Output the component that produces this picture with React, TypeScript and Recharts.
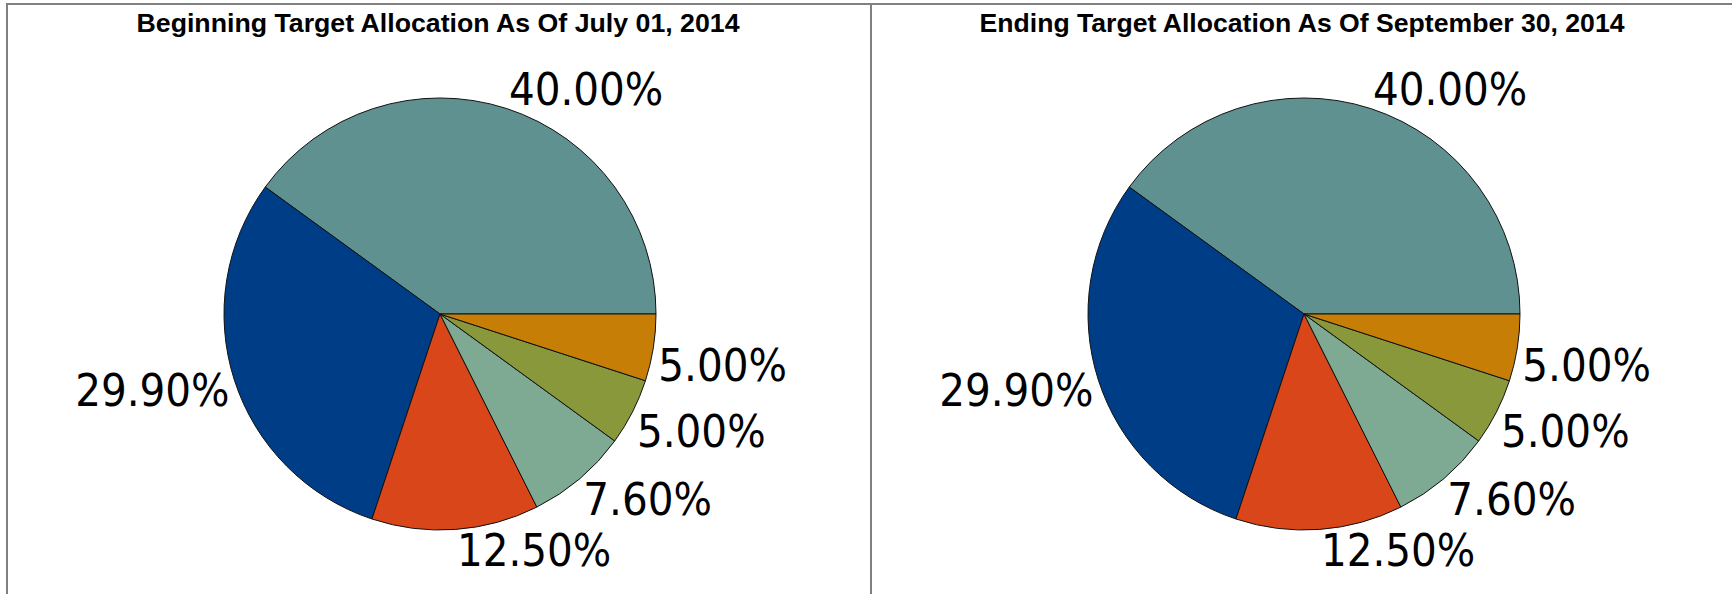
import { PieChart, Pie, Cell } from "recharts";

// Data
const sliceNames = ["Sleeve A", "Sleeve B", "Sleeve C", "Sleeve D", "Sleeve E", "Sleeve F"];
const beginningValues = [40.0, 29.9, 12.5, 7.6, 5.0, 5.0];
const endingValues = [40.0, 29.9, 12.5, 7.6, 5.0, 5.0];
const panelTitles = [
  "Beginning Target Allocation As Of July 01, 2014",
  "Ending Target Allocation As Of September 30, 2014",
];

const sliceColors = ["#5F9190", "#003D87", "#D9461A", "#7EAA93", "#89983A", "#C77E06"];

const beginningData = sliceNames.map((name, i) => ({ name, value: beginningValues[i] }));
const endingData = sliceNames.map((name, i) => ({ name, value: endingValues[i] }));

const W = 1732;
const H = 594;
const RADIAN = Math.PI / 180;

const renderLabel = (props: any) => {
  const { cx, cy, midAngle, outerRadius, value } = props;
  const r = outerRadius + 4;
  const px = cx + r * Math.cos(midAngle * RADIAN);
  const py = cy - r * Math.sin(midAngle * RADIAN);
  const right = Math.cos(midAngle * RADIAN) >= 0;
  const upper = Math.sin(midAngle * RADIAN) > 0;
  // left-hand labels sit a little higher than the right-hand ones
  const y = (upper ? py : py + 33) - (right ? 0 : 8);
  return (
    <text
      x={right ? px + 1 : px - 1}
      y={y}
      textAnchor={right ? "start" : "end"}
      fill="#000"
      style={{
        fontFamily: "'DejaVu Sans Condensed', 'DejaVu Sans', sans-serif",
        fontStretch: "condensed",
        fontSize: 45,
      }}
    >
      {`${Number(value).toFixed(2)}%`}
    </text>
  );
};

const titleStyle = { fontFamily: "'Liberation Sans', Arial, sans-serif", fontWeight: 700, fontSize: 26 };

export default function App() {
  return (
    <div style={{ position: "fixed", left: 0, top: 0, width: W, height: H, background: "#fff", overflow: "hidden" }}>
      <svg width={W} height={H} style={{ position: "absolute", left: 0, top: 0 }}>
        {/* table borders */}
        <rect x={6} y={3} width={W - 6} height={2} fill="#808080" />
        <rect x={6} y={3} width={2} height={H - 3} fill="#808080" />
        <rect x={870} y={3} width={2} height={H - 3} fill="#808080" />
        <text x={438} y={32} textAnchor="middle" textLength={603} lengthAdjust="spacingAndGlyphs" style={titleStyle}>
          {panelTitles[0]}
        </text>
        <text x={1302} y={32} textAnchor="middle" textLength={645} lengthAdjust="spacingAndGlyphs" style={titleStyle}>
          {panelTitles[1]}
        </text>
      </svg>
      <div style={{ position: "absolute", left: 0, top: 0 }}>
        <PieChart width={W} height={H} margin={{ top: 0, right: 0, bottom: 0, left: 0 }}>
          <Pie
            data={beginningData}
            dataKey="value"
            nameKey="name"
            cx={440}
            cy={314}
            outerRadius={216}
            startAngle={0}
            endAngle={360}
            stroke="#111"
            strokeWidth={1}
            label={renderLabel}
            labelLine={false}
            isAnimationActive={false}
          >
            {beginningData.map((d, i) => (
              <Cell key={d.name} fill={sliceColors[i]} />
            ))}
          </Pie>
          <Pie
            data={endingData}
            dataKey="value"
            nameKey="name"
            cx={1304}
            cy={314}
            outerRadius={216}
            startAngle={0}
            endAngle={360}
            stroke="#111"
            strokeWidth={1}
            label={renderLabel}
            labelLine={false}
            isAnimationActive={false}
          >
            {endingData.map((d, i) => (
              <Cell key={d.name} fill={sliceColors[i]} />
            ))}
          </Pie>
        </PieChart>
      </div>
    </div>
  );
}
